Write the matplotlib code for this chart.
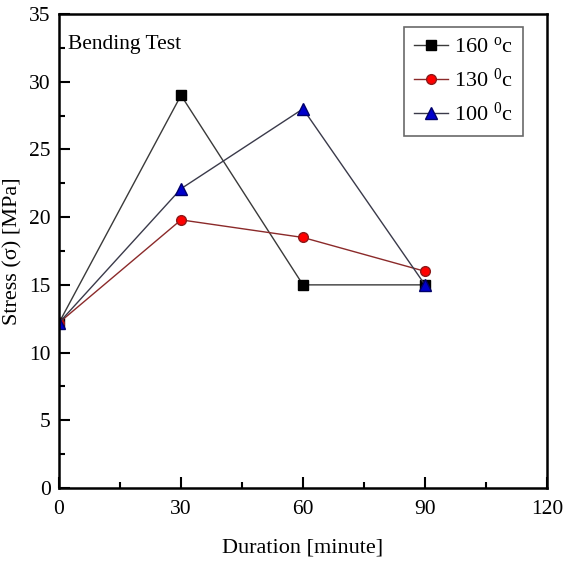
import matplotlib
matplotlib.use("Agg")
import matplotlib.pyplot as plt
from matplotlib.ticker import MultipleLocator

plt.rcParams["font.family"] = ["Liberation Serif", "DejaVu Serif"]
plt.rcParams["mathtext.fontset"] = "custom"
plt.rcParams["mathtext.rm"] = "Liberation Serif"
plt.rcParams["mathtext.it"] = "Liberation Serif:italic"

duration = [0, 30, 60, 90]
stress_160 = [12.2, 29.0, 15.0, 15.0]
stress_130 = [12.2, 19.8, 18.5, 16.0]
stress_100 = [12.2, 22.1, 28.0, 15.0]
labels = ["160 $^{\\rm o}$c", "130 $^{\\rm 0}$c", "100 $^{\\rm 0}$c"]

fig = plt.figure(figsize=(5.63, 5.62), dpi=100)
ax = fig.add_axes([0.1048, 0.1317, 0.8668, 0.8433])

ax.plot(duration, stress_160, color="#3a3a3a", lw=1.0, marker="s", ms=6.5,
        mfc="black", mec="black", label=labels[0])
ax.plot(duration, stress_130, color="#8b2a2a", lw=1.0, marker="o", ms=7,
        mfc="red", mec="#8b1a1a", label=labels[1])
ax.plot(duration, stress_100, color="#3a3a4a", lw=1.0, marker="^", ms=8.5,
        mfc="#0000cc", mec="#00006a", label=labels[2])

ax.set_xlim(0, 120)
ax.set_ylim(0, 35)
ax.xaxis.set_major_locator(MultipleLocator(30))
ax.xaxis.set_minor_locator(MultipleLocator(15))
ax.yaxis.set_major_locator(MultipleLocator(5))
ax.yaxis.set_minor_locator(MultipleLocator(2.5))
ax.tick_params(which="both", direction="in", top=False, right=False, labelsize=15.5, width=1.5)
ax.tick_params(which="major", length=8)
ax.tick_params(which="minor", length=4)
ax.tick_params(axis="x", pad=9)
ax.tick_params(axis="y", pad=6)
for s in ax.spines.values():
    s.set_linewidth(1.8)

ax.set_xlabel("Duration [minute]", fontsize=16, labelpad=14)
ax.set_ylabel("Stress (σ) [MPa]", fontsize=16, labelpad=5)
ax.text(0.018, 0.955, "Bending Test", transform=ax.transAxes, fontsize=15.5, va="top")

leg = ax.legend(loc="upper right", bbox_to_anchor=(0.951, 0.973), borderaxespad=0,
                fontsize=16, frameon=True, fancybox=False, edgecolor="#444444",
                handlelength=1.5, handletextpad=0.3, borderpad=0.45, labelspacing=0.5)
leg.get_frame().set_linewidth(1.2)

fig.savefig("out.png", dpi=100)
